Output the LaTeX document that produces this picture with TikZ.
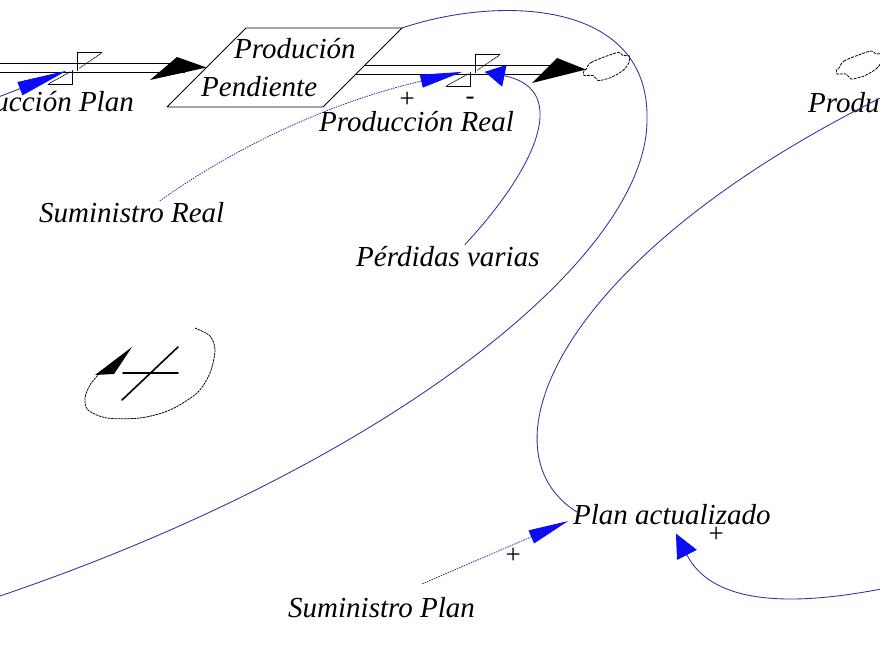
\documentclass[tikz,border=0pt]{standalone}
\usepackage{fontspec}
\setmainfont{Liberation Serif}
\usepackage{tikz}
\usetikzlibrary{arrows.meta,calc}
\definecolor{linkblue}{HTML}{3030A0}
\definecolor{headblue}{HTML}{0B0BF5}
\newcommand{\varfont}{\fontsize{29}{32}\selectfont\itshape}
\newcommand{\signfont}{\fontsize{27}{29}\selectfont\itshape}
\tikzset{
    every picture/.style={line cap=round,line join=round},
    varlabel/.style={font=\varfont,inner sep=1pt,text=black},
    polsign/.style={font=\signfont,inner sep=0pt},
    stockline/.style={draw=black,line width=0.8pt},
    pipeline/.style={draw=black,line width=0.9pt,line cap=butt},
    flowhead/.style={fill=black},
    valveline/.style={line width=0.8pt},
    valvedot/.style={line width=0.8pt,densely dotted},
    cloudline/.style={line width=0.8pt,dash pattern=on 2.5pt off 1.5pt},
    link/.style={draw=linkblue,line width=0.85pt},
    dotlink/.style={link,dash pattern=on 1pt off 1.5pt},
    loopline/.style={line width=0.8pt,dash pattern=on 2pt off 1.2pt}
}
\newcommand{\valveat}[1]{%
  \begin{scope}[shift={#1}]
    \draw[valveline] (2,3) -- (2,-15) -- (27,-15);
    \draw[valvedot] (26,-14) -- (4,1);
    \draw[valveline] (-3,3) -- (-3,17) -- (-27,17);
    \draw[valvedot] (-26,16) -- (-4,4);
  \end{scope}}
\newcommand{\cloudat}[1]{%
  \draw[cloudline,shift={#1}] plot[smooth cycle] coordinates
    {(0,0) (5,-7) (25,-15) (33,-17) (37,-14) (43,-14) (43,-7) (37,1)
     (25,8) (18,10) (12,11) (7,6) (-2,6) (-2,1)};}

\begin{document}
\begin{tikzpicture}[x=1pt,y=-1pt]
  \useasboundingbox (0,0) rectangle (880,646);
  \clip (0,0) rectangle (880,646);
  \fill[white] (0,0) rectangle (880,646);

  \coordinate (stockSW) at (167,107);
  \coordinate (stockNW) at (246,28);
  \coordinate (stockNE) at (402,28);
  \coordinate (stockSE) at (323,107);
  \coordinate (stockW) at ($(stockSW)!0.5!(stockNW)$);
  \coordinate (stockE) at ($(stockSE)!0.5!(stockNE)$);
  \draw[stockline] (stockSW) -- (stockNW) -- (stockNE) -- (stockSE) -- cycle;
  \node[varlabel,anchor=base west] (stocktop) at (233,58) {Produción};
  \node[varlabel,anchor=base west] (stockbot) at (200,96) {Pendiente};

  \coordinate (srcL) at (-20,67.5);
  \coordinate (valveL) at (75,67.5);
  \coordinate (valveR) at (473,69.5);
  \coordinate (sinkR) at (586,69.5);
  \coordinate (offW) at (-15,601);
  \coordinate (offL) at (-25,106);
  \coordinate (offNE) at (905,86);
  \coordinate (offE) at (905,584);

  \draw[pipeline] ($(srcL)+(0,-4.5)$) -- (190,63) ($(srcL)+(0,4.5)$) -- (185,72);
  \draw[pipeline] (364,65) -- (565,65) (356,74) -- (545,74);
  \fill[flowhead] (150,80) -- (177,57) -- (stockW) -- cycle;
  \fill[flowhead] (532,83) -- (557,58) -- (sinkR) -- cycle;
  \valveat{(valveL)}
  \valveat{(valveR)}
  \cloudat{(sinkR)}
  \cloudat{(839,68)}

  \node[varlabel,anchor=base east] (prodplanL) at (135,111) {Producción Plan};
  \node[varlabel,anchor=base west] (prodreal) at (318,131) {Producción Real};
  \node[varlabel,anchor=base west] (sumreal) at (38,222) {Suministro Real};
  \node[varlabel,anchor=base west] (perdidas) at (355,266) {Pérdidas varias};
  \node[varlabel,anchor=base west] (planact) at (572,524) {Plan actualizado};
  \node[varlabel,anchor=base west] (sumplan) at (287,617) {Suministro Plan};
  \node[varlabel,anchor=base west] (prodplanR) at (807,112) {Producción Plan};

  \node[polsign] (sgnreal) at (407,100) {+};
  \node[polsign] (sgnloss) at (470,101) {-};
  \node[polsign] (sgnplan) at (716,535) {+};
  \node[polsign] (sgnsup) at (513,556) {+};

  \draw[link] (stockNE) .. controls (500,-5) and (650,0) .. (647,120)
    .. controls (647,260) and (380,470) .. (offW);
  \draw[dotlink,-{Triangle[length=42pt,width=13pt,color=headblue]},shorten >=11pt]
    (sumreal.22) .. controls (260,130) and (360,95) .. (valveR);
  \draw[link,-{Triangle[length=20pt,width=22pt,color=headblue]},shorten >=12pt]
    (perdidas.34) .. controls (530,175) and (575,90) .. (valveR);
  \draw[link,-{Triangle[length=50pt,width=14pt,color=headblue]},shorten >=9pt]
    (offL) -- (valveL);
  \draw[link] ($(planact.north west)+(6,10)$) .. controls (475,450) and (560,250) .. (offNE);
  \draw[dotlink,-{Triangle[length=40pt,width=14pt,color=headblue]}]
    ($(sumplan.north)+(41,-12)$) -- ($(planact.west)+(-4,7)$);
  \draw[link,-{Triangle[length=24pt,width=22pt,color=headblue]},shorten >=9pt]
    (offE) .. controls (780,612) and (710,600) .. (planact.south);

  \draw[loopline] plot[smooth] coordinates {(195,328) (210,336) (215,350) (210,373)
    (197,393) (170,410) (140,418) (107,418) (88,410) (85,398) (90,385) (98,375)};
  \fill (95,375) -- (132,347) -- (114,374) -- cycle;
  \draw[line width=1.6pt] (123,373) -- (178,373);
  \draw[line width=1.6pt] (122,400) -- (178,347);
\end{tikzpicture}
\end{document}
